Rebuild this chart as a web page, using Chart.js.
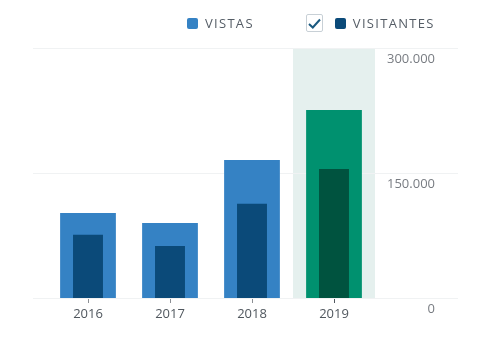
<!DOCTYPE html>
<html>
<head>
<meta charset="utf-8">
<script src="https://cdn.jsdelivr.net/npm/chart.js@4"></script>
<style>
  body { margin: 0; background: #fff; font-family: "Open Sans", sans-serif; }
  .wrap { position: relative; width: 504px; height: 337px; }
  .legend { position: absolute; top: 12px; left: 187px; height: 22px; display: flex; align-items: center;
            font-size: 13px; letter-spacing: 1.3px; color: #555d66; }
  .legend .sw { width: 11px; height: 11px; border-radius: 2px; margin-right: 7px; }
  .legend .item { display: flex; align-items: center; }
  .legend .check { width: 17px; height: 18px; border: 1px solid #c8d0d6; border-radius: 2px; margin: 0 12px 0 0;
                   display: flex; align-items: center; justify-content: center; box-sizing: border-box; }
  canvas { position: absolute; left: 0; top: 0; }
</style>
</head>
<body>
<div class="wrap">
  <canvas id="statsChart" width="504" height="337"></canvas>
  <div class="legend" id="legend"></div>
</div>
<script>
document.addEventListener('DOMContentLoaded', () => {
    const years = ['2016', '2017', '2018', '2019'];
    const vistas = [102000, 90000, 165600, 225600];
    const visitantes = [76000, 62400, 113200, 154800];
    const yTicks = [0, 150000, 300000];
    const seriesNames = ['VISTAS', 'VISITANTES'];
    const selected = 3;

    const blue = '#3582c4', darkBlue = '#0b4a79';
    const green = '#00916f', darkGreen = '#00533f';

    // Legend row: plain swatch, then checkbox + swatch
    const legend = document.getElementById('legend');
    legend.innerHTML =
        '<div class="item" style="margin-right:52px"><span class="sw" style="background:' + blue + '"></span>' + seriesNames[0] + '</div>' +
        '<div class="item"><span class="check"><svg width="13" height="11" viewBox="0 0 13 11">' +
        '<path d="M1 6 L4.8 9.5 L12 1.5" fill="none" stroke="#1b5a80" stroke-width="2"/></svg></span>' +
        '<span class="sw" style="background:' + darkBlue + '"></span>' + seriesNames[1] + '</div>';

    const pick = (c, sel) => years.map((_, i) => i === selected ? sel : c);

    // Background: highlighted column band + gridlines wider than the plot
    const backdrop = {
        id: 'backdrop',
        beforeDatasetsDraw(chart) {
            const { ctx, scales: { x, y }, chartArea } = chart;
            const half = (x.getPixelForValue(1) - x.getPixelForValue(0)) / 2;
            const cx = x.getPixelForValue(selected);
            ctx.save();
            ctx.fillStyle = '#e5f0ee';
            const top = y.getPixelForValue(yTicks[yTicks.length - 1]);
            ctx.fillRect(cx - half, top, half * 2, y.getPixelForValue(0) - top);
            ctx.strokeStyle = '#f0f2f3';
            ctx.lineWidth = 1;
            yTicks.forEach(v => {
                const py = Math.round(y.getPixelForValue(v)) + 0.5;
                ctx.beginPath();
                ctx.moveTo(chartArea.left - 14, py);
                ctx.lineTo(chartArea.right + 83, py);
                ctx.stroke();
            });
            ctx.restore();
        }
    };

    new Chart(document.getElementById('statsChart').getContext('2d'), {
        type: 'bar',
        data: {
            labels: years,
            datasets: [{
                label: seriesNames[0],
                data: vistas,
                backgroundColor: pick(blue, green),
                barPercentage: 0.68,
                categoryPercentage: 1,
                grouped: false,
                order: 2
            }, {
                label: seriesNames[1],
                data: visitantes,
                backgroundColor: pick(darkBlue, darkGreen),
                barPercentage: 0.365,
                categoryPercentage: 1,
                grouped: false,
                order: 1
            }]
        },
        options: {
            responsive: false,
            animation: false,
            layout: { padding: { left: 47, top: 48, right: 69, bottom: 0 } },
            plugins: { legend: { display: false }, tooltip: { enabled: false } },
            scales: {
                x: {
                    offset: true,
                    grid: {
                        offset: false,
                        drawOnChartArea: false,
                        tickLength: 5,
                        color: ctx => ctx.index === selected ? '#50575e' : '#8c8f94'
                    },
                    border: { display: false },
                    ticks: {
                        padding: 3,
                        color: '#50575e',
                        font: { family: 'Open Sans', size: 13 }
                    },
                    afterFit: s => { s.height = 39; }
                },
                y: {
                    position: 'right',
                    min: 0,
                    max: 300000,
                    afterBuildTicks: s => { s.ticks = yTicks.map(v => ({ value: v })); },
                    grid: { display: false },
                    border: { display: false },
                    ticks: {
                        crossAlign: 'far',
                        padding: 12,
                        labelOffset: 11,
                        color: '#787c82',
                        font: { family: 'Open Sans', size: 13 },
                        callback: v => v.toLocaleString('de-DE')
                    },
                    afterFit: s => { s.width = 60; }
                }
            }
        },
        plugins: [backdrop]
    });
});
</script>
</body>
</html>
